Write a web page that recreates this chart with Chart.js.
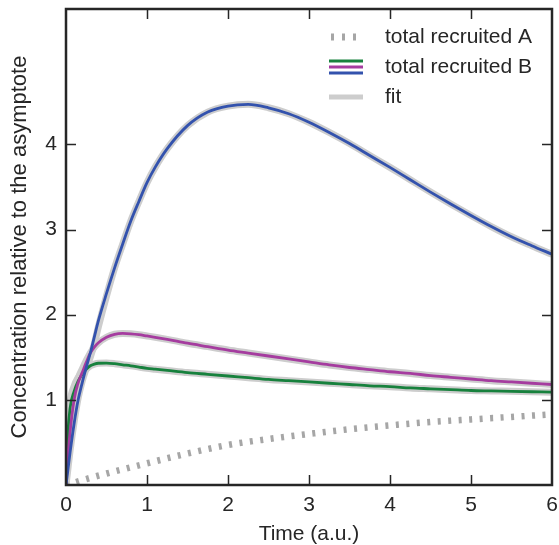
<!DOCTYPE html>
<html>
<head>
<meta charset="utf-8">
<script src="https://cdn.jsdelivr.net/npm/chart.js@4"></script>
<style>
  html, body { margin: 0; padding: 0; background: #fff; }
  #wrap { width: 559px; height: 545px; }
</style>
</head>
<body>
<div id="wrap"><canvas id="c" width="559" height="545"></canvas></div>
<script>
// ---- data ----
const timePoints = [0, 0.02, 0.05, 0.1, 0.15, 0.2, 0.25, 0.3, 0.35, 0.4, 0.5, 0.6, 0.7, 0.8, 0.9, 1.0, 1.1, 1.25, 1.5, 1.75, 2.0, 2.25, 2.5, 2.75, 3.0, 3.25, 3.5, 3.75, 4.0, 4.25, 4.5, 4.75, 5.0, 5.25, 5.5, 5.75, 6.0];
const blueValues    = [0, 0.15, 0.38, 0.72, 1.0, 1.2, 1.38, 1.55, 1.74, 1.93, 2.25, 2.55, 2.83, 3.1, 3.33, 3.55, 3.73, 3.95, 4.22, 4.38, 4.45, 4.47, 4.43, 4.36, 4.26, 4.14, 4.01, 3.87, 3.73, 3.585, 3.44, 3.30, 3.165, 3.035, 2.915, 2.81, 2.71];
const magentaValues = [0, 0.3, 0.62, 1.0, 1.2, 1.32, 1.44, 1.55, 1.62, 1.67, 1.735, 1.77, 1.78, 1.775, 1.765, 1.75, 1.735, 1.71, 1.665, 1.625, 1.585, 1.55, 1.515, 1.48, 1.445, 1.41, 1.38, 1.355, 1.33, 1.31, 1.285, 1.265, 1.245, 1.225, 1.21, 1.195, 1.18];
const greenValues   = [0, 0.55, 0.9, 1.1, 1.22, 1.3, 1.36, 1.4, 1.42, 1.43, 1.432, 1.425, 1.412, 1.40, 1.385, 1.37, 1.36, 1.345, 1.32, 1.30, 1.28, 1.26, 1.24, 1.225, 1.21, 1.195, 1.18, 1.165, 1.155, 1.14, 1.13, 1.12, 1.11, 1.105, 1.10, 1.095, 1.09];
const fitBlue       = [0, 0.16, 0.4, 0.74, 1.02, 1.22, 1.37, 1.5, 1.66, 1.86, 2.22, 2.55, 2.83, 3.1, 3.33, 3.55, 3.73, 3.95, 4.22, 4.38, 4.45, 4.47, 4.43, 4.36, 4.26, 4.14, 4.01, 3.87, 3.73, 3.585, 3.44, 3.30, 3.165, 3.035, 2.915, 2.81, 2.71];
const fitMagenta    = [0, 0.36, 0.7, 1.06, 1.25, 1.36, 1.46, 1.55, 1.62, 1.67, 1.735, 1.77, 1.78, 1.775, 1.765, 1.75, 1.735, 1.71, 1.665, 1.625, 1.585, 1.55, 1.515, 1.48, 1.445, 1.41, 1.38, 1.355, 1.33, 1.31, 1.285, 1.265, 1.245, 1.225, 1.21, 1.195, 1.18];
const fitGreen      = [0, 0.62, 0.97, 1.16, 1.26, 1.32, 1.36, 1.4, 1.42, 1.43, 1.432, 1.425, 1.412, 1.40, 1.385, 1.37, 1.36, 1.345, 1.32, 1.30, 1.28, 1.26, 1.24, 1.225, 1.21, 1.195, 1.18, 1.165, 1.155, 1.14, 1.13, 1.12, 1.11, 1.105, 1.10, 1.095, 1.09];
const timeA   = [0, 0.25, 0.5, 0.75, 1.0, 1.5, 2.0, 2.5, 3.0, 3.5, 4.0, 4.5, 5.0, 5.5, 6.0];
const valuesA = [0, 0.07, 0.135, 0.195, 0.255, 0.37, 0.47, 0.54, 0.60, 0.655, 0.70, 0.74, 0.77, 0.80, 0.83];
const xTickValues = [0, 1, 2, 3, 4, 5, 6];
const yTickValues = [1, 2, 3, 4];
const legendLabels = ['total recruited A', 'total recruited B', 'fit'];
const xTitle = 'Time (a.u.)';
const yTitle = 'Concentration relative to the asymptote';

const COL = { blue: '#3352ad', magenta: '#a53c9f', green: '#17813d', fit: '#cdcdcd', dots: '#a6a6a6', ink: '#262626' };
const FONT = 'Liberation Sans, Arial, Helvetica, sans-serif';
const FS = 21;

const pts = (xs, ys) => xs.map((x, i) => ({ x, y: ys[i] }));

const lineDs = (data, color, width, order, extra) => Object.assign({
  data, borderColor: color, borderWidth: width, pointRadius: 0, fill: false,
  cubicInterpolationMode: 'monotone', clip: 0, order
}, extra || {});

const framePlugin = {
  id: 'frame',
  afterDatasetsDraw(chart) {
    const { ctx, chartArea: a, scales: { x, y } } = chart;
    ctx.save();
    ctx.strokeStyle = COL.ink;
    ctx.lineWidth = 1.5;
    const L = 10;
    ctx.beginPath();
    x.ticks.forEach(t => {
      if (t.value <= x.min || t.value >= x.max) return;
      const p = Math.round(x.getPixelForValue(t.value)) + 0.5;
      ctx.moveTo(p, a.bottom); ctx.lineTo(p, a.bottom - L);
      ctx.moveTo(p, a.top); ctx.lineTo(p, a.top + L);
    });
    y.ticks.forEach(t => {
      if (t.value <= y.min || t.value >= y.max) return;
      const p = Math.round(y.getPixelForValue(t.value)) + 0.5;
      ctx.moveTo(a.left, p); ctx.lineTo(a.left + L, p);
      ctx.moveTo(a.right, p); ctx.lineTo(a.right - L, p);
    });
    ctx.stroke();
    ctx.lineWidth = 2.5;
    ctx.strokeRect(a.left, a.top, a.right - a.left, a.bottom - a.top);

    // legend
    const hx0 = 329, hx1 = 363, tx = 385;
    const rows = [37, 67, 97];
    ctx.strokeStyle = COL.dots; ctx.lineWidth = 7; ctx.setLineDash([3, 8]); ctx.lineCap = 'butt';
    ctx.beginPath(); ctx.moveTo(hx0 + 2, rows[0]); ctx.lineTo(hx1, rows[0]); ctx.stroke();
    ctx.setLineDash([]);
    [[COL.green, -6], [COL.magenta, 0], [COL.blue, 6]].forEach(([c, d]) => {
      ctx.strokeStyle = c; ctx.lineWidth = 2.8;
      ctx.beginPath(); ctx.moveTo(hx0, rows[1] + d); ctx.lineTo(hx1, rows[1] + d); ctx.stroke();
    });
    ctx.strokeStyle = COL.fit; ctx.lineWidth = 5;
    ctx.beginPath(); ctx.moveTo(hx0, rows[2]); ctx.lineTo(hx1, rows[2]); ctx.stroke();
    ctx.fillStyle = COL.ink; ctx.font = FS + 'px ' + FONT; ctx.textBaseline = 'middle'; ctx.textAlign = 'left';
    legendLabels.forEach((s, i) => ctx.fillText(s, tx, rows[i]));
    ctx.restore();
  }
};

new Chart(document.getElementById('c'), {
  type: 'line',
  data: {
    datasets: [
      lineDs(pts(timePoints, fitBlue), COL.fit, 7, 10),
      lineDs(pts(timePoints, fitMagenta), COL.fit, 7, 10),
      lineDs(pts(timePoints, fitGreen), COL.fit, 7, 10),
      lineDs(pts(timeA, valuesA), COL.dots, 6.5, 8, { borderDash: [3, 7.5], borderCapStyle: 'butt' }),
      lineDs(pts(timePoints, greenValues), COL.green, 2.8, 3),
      lineDs(pts(timePoints, magentaValues), COL.magenta, 2.8, 2),
      lineDs(pts(timePoints, blueValues), COL.blue, 2.8, 1)
    ]
  },
  options: {
    responsive: false,
    animation: false,
    devicePixelRatio: 1,
    layout: { padding: { left: 0, top: 9, right: 7, bottom: 0 } },
    plugins: { legend: { display: false }, tooltip: { enabled: false } },
    scales: {
      x: {
        type: 'linear', min: 0, max: 6,
        afterFit: s => { s.height = 60; s.paddingLeft = 0; s.paddingRight = 0; },
        afterBuildTicks: s => { s.ticks = xTickValues.map(v => ({ value: v })); },
        grid: { display: false, drawTicks: false },
        border: { display: false },
        ticks: { color: COL.ink, padding: 8, font: { family: FONT, size: FS }, maxRotation: 0 },
        title: { display: true, text: xTitle, color: COL.ink, font: { family: FONT, size: FS, lineHeight: 1 }, padding: { top: 0, bottom: 0 } }
      },
      y: {
        type: 'linear', min: 0, max: 5.59,
        afterFit: s => { s.width = 66; s.paddingTop = 0; s.paddingBottom = 0; },
        afterBuildTicks: s => { s.ticks = yTickValues.map(v => ({ value: v })); },
        grid: { display: false, drawTicks: false },
        border: { display: false },
        ticks: { color: COL.ink, padding: 9, font: { family: FONT, size: FS } },
        title: { display: true, text: yTitle, color: COL.ink, font: { family: FONT, size: 22, lineHeight: 1 }, padding: { top: 9, bottom: 0 } }
      }
    }
  },
  plugins: [framePlugin]
});
</script>
</body>
</html>
